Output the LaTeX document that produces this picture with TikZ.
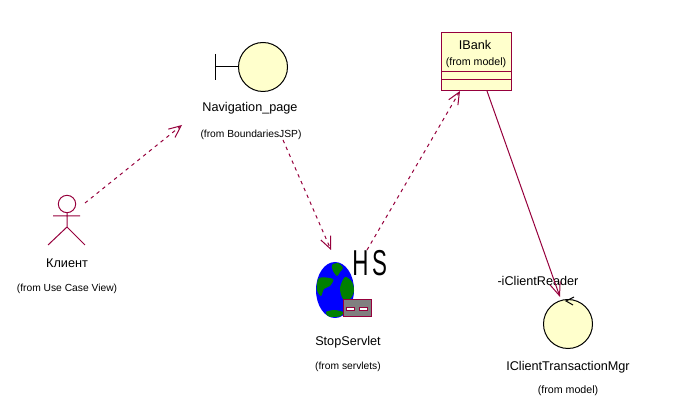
\documentclass[tikz,border=0pt]{standalone}
\usepackage{fontspec}
\setmainfont{Liberation Sans}
\usepackage{xcolor}
\usetikzlibrary{arrows.meta, shapes.geometric}

\definecolor{rosered}{HTML}{96003C}
\definecolor{rosefill}{HTML}{FFFFCC}

\tikzset{
  rosebase/.style={line width=0.75pt, draw=rosered},
  rosename/.style={inner sep=0pt, font=\fontsize{9.5}{11}\selectfont},
  rosefrom/.style={inner sep=0pt, font=\fontsize{7.7}{9}\selectfont},
  rosecircle/.style={circle, draw=black, line width=0.75pt, fill=rosefill, minimum size=36.75pt, inner sep=0pt},
  rosedep/.style={rosebase, dash pattern=on 2.6pt off 3pt, -{Straight Barb[length=9pt, width=8pt, line width=0.75pt]}},
  roseassoc/.style={rosebase, -{Straight Barb[length=10pt, width=8pt, line width=0.75pt]}},
}

\begin{document}
\begin{tikzpicture}[x=0.75pt, y=-0.75pt]
\useasboundingbox (0,0) rectangle (689,409);

% actor
\node[circle, rosebase, minimum size=13pt, inner sep=0pt] (head) at (67,204) {};
\coordinate (armleft) at (53,216);
\coordinate (armright) at (80,216);
\coordinate (hip) at (67,227);
\coordinate (legleft) at (48,245);
\coordinate (legright) at (85,245);
\draw[rosebase] (head) -- (hip)
                (armleft) -- (armright)
                (legleft) -- (hip) -- (legright);
\node[rosename] (clientname) at (67,263) {Клиент};
\node[rosefrom] (clientfrom) at (67,289) {(from Use Case View)};

% boundary
\node[rosecircle] (navpage) at (263,67) {};
\coordinate (navbartop) at (215,54);
\coordinate (navbarbot) at (215,80);
\coordinate (navbarmid) at (215,67);
\draw[black, line width=0.75pt] (navbartop) -- (navbarbot)
                                (navbarmid) -- (navpage);
\node[rosename] (navname) at (250,108) {Navigation\_page};
\node[rosefrom] (navfrom) at (251,135) {(from BoundariesJSP)};

% class
\node[rectangle, rosebase, fill=rosefill, minimum width=53pt, minimum height=43.5pt, inner sep=0pt] (ibank) at (476.5,62) {};
\coordinate (ibankleftA) at (441,72);
\coordinate (ibankrightA) at (512,72);
\coordinate (ibankleftB) at (441,80);
\coordinate (ibankrightB) at (512,80);
\draw[rosebase] (ibankleftA) -- (ibankrightA)
                (ibankleftB) -- (ibankrightB);
\node[rosename, font=\fontsize{9.5}{11}\selectfont] (ibankname) at (475,45) {IBank};
\node[rosefrom, font=\fontsize{8}{9}\selectfont] (ibankfrom) at (476,63) {(from model)};

% servlet icon
\node[ellipse, fill=blue, minimum width=28.5pt, minimum height=42pt, inner sep=0pt] (globe) at (335,290) {};
\fill[green!50!black] plot[smooth cycle] coordinates {(332,265) (338,263) (343,268) (340,272) (337,276) (333,271)};
\fill[green!50!black] plot[smooth cycle] coordinates {(319,278) (333,279) (330,286) (324,289) (321,296) (317,290)};
\fill[green!50!black] plot[smooth cycle] coordinates {(345,277) (352,282) (354,291) (350,299) (343,299) (340,288)};
\fill[green!50!black] plot[smooth cycle] coordinates {(326,312) (334,310) (343,312) (341,316) (333,317) (328,316)};
\node[rectangle, draw=rosered, line width=0.75pt, fill=gray, minimum width=21pt, minimum height=12.75pt, inner sep=0pt] (servbox) at (357,308.5) {};
\node[rectangle, draw=rosered, line width=0.75pt, fill=white, minimum width=6pt, minimum height=2.5pt, inner sep=0pt] (servslotA) at (350.5,309) {};
\node[rectangle, draw=rosered, line width=0.75pt, fill=white, minimum width=6pt, minimum height=2.5pt, inner sep=0pt] (servslotB) at (363,309) {};
\node[inner sep=0pt, xscale=0.62, font=\fontsize{27}{27}\selectfont] (servH) at (360.5,263.5) {H};
\node[inner sep=0pt, xscale=0.62, font=\fontsize{27}{27}\selectfont] (servS) at (379.5,263.5) {S};
\node[rosename] (servname) at (348,342) {StopServlet};
\node[rosefrom] (servfrom) at (348,367) {(from servlets)};

% control
\node[rosecircle] (itrans) at (568,324) {};
\coordinate (tickmid) at (566,301);
\coordinate (tickup) at (574,297);
\coordinate (tickdown) at (573,305);
\draw[black, line width=0.75pt] (tickup) -- (tickmid) -- (tickdown);
\node[rosename] (itransrole) at (538,281) {-iClientReader};
\node[rosename] (itransname) at (568,367) {IClientTransactionMgr};
\node[rosefrom, font=\fontsize{8}{9}\selectfont] (itransfrom) at (568,391) {(from model)};

% connectors
\coordinate (clientout) at (85,203);
\coordinate (navin) at (182,125);
\coordinate (navout) at (283,140);
\coordinate (servin) at (331,250);
\coordinate (servout) at (367,250);
\coordinate (ibankin) at (460,91);
\coordinate (ibankout) at (487,91);
\coordinate (itransin) at (560,297);
\draw[rosedep] (clientout) -- (navin);
\draw[rosedep] (navout) -- (servin);
\draw[rosedep] (servout) -- (ibankin);
\draw[roseassoc] (ibankout) -- (itransin);
\end{tikzpicture}
\end{document}
